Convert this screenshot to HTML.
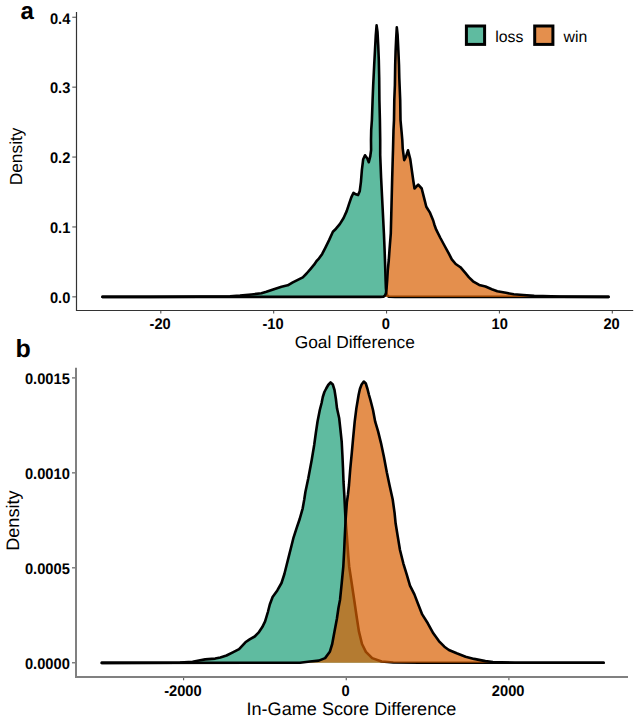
<!DOCTYPE html>
<html><head><meta charset="utf-8"><style>
html,body{margin:0;padding:0;background:#fff;}
body{width:637px;height:720px;overflow:hidden;}
svg{display:block;font-family:"Liberation Sans",sans-serif;}
text{fill:#000;text-rendering:geometricPrecision;}
</style></head><body>
<svg width="637" height="720" viewBox="0 0 637 720">
<polygon points="102.5,296.9 102.5,296.9 150.0,296.9 200.0,296.6 230.0,296.3 240.0,295.6 251.3,294.5 261.4,293.3 266.4,291.8 273.9,289.2 281.5,286.7 287.7,285.3 292.8,282.3 297.8,279.8 302.8,277.3 306.6,273.5 310.4,269.1 314.1,264.7 316.6,261.0 318.4,259.2 322.2,253.9 325.3,247.8 329.1,240.1 332.9,231.7 336.0,228.7 339.8,224.1 343.6,218.0 346.7,211.1 349.0,204.2 351.3,197.4 353.5,192.8 355.8,194.3 358.1,195.1 359.7,191.3 360.9,182.1 361.9,169.9 363.2,159.2 365.0,155.3 367.3,158.4 368.8,162.2 370.3,156.1 371.1,150.0 371.0,140.0 371.2,130.0 371.9,120.0 372.6,100.0 373.2,85.0 374.2,65.0 375.0,50.0 375.8,35.0 376.6,25.3 377.5,32.0 378.2,45.0 378.8,60.0 379.2,78.0 379.4,100.0 379.9,120.0 380.2,140.0 380.2,155.0 381.1,177.8 382.5,205.6 383.9,233.3 384.6,250.0 385.3,270.0 385.6,280.0 385.9,288.0 386.4,293.0 387.2,295.5 388.5,296.6 395.0,296.9 608.5,296.9 608.5,296.9" fill="rgba(27,158,119,0.7)" stroke="none"/>
<polyline points="102.5,296.9 150.0,296.9 200.0,296.6 230.0,296.3 240.0,295.6 251.3,294.5 261.4,293.3 266.4,291.8 273.9,289.2 281.5,286.7 287.7,285.3 292.8,282.3 297.8,279.8 302.8,277.3 306.6,273.5 310.4,269.1 314.1,264.7 316.6,261.0 318.4,259.2 322.2,253.9 325.3,247.8 329.1,240.1 332.9,231.7 336.0,228.7 339.8,224.1 343.6,218.0 346.7,211.1 349.0,204.2 351.3,197.4 353.5,192.8 355.8,194.3 358.1,195.1 359.7,191.3 360.9,182.1 361.9,169.9 363.2,159.2 365.0,155.3 367.3,158.4 368.8,162.2 370.3,156.1 371.1,150.0 371.0,140.0 371.2,130.0 371.9,120.0 372.6,100.0 373.2,85.0 374.2,65.0 375.0,50.0 375.8,35.0 376.6,25.3 377.5,32.0 378.2,45.0 378.8,60.0 379.2,78.0 379.4,100.0 379.9,120.0 380.2,140.0 380.2,155.0 381.1,177.8 382.5,205.6 383.9,233.3 384.6,250.0 385.3,270.0 385.6,280.0 385.9,288.0 386.4,293.0 387.2,295.5 388.5,296.6 395.0,296.9 608.5,296.9" fill="none" stroke="#000" stroke-width="2.6" stroke-linejoin="round" stroke-linecap="round"/>

<polygon points="102.5,296.9 102.5,296.9 380.0,296.9 383.5,296.6 385.0,295.5 386.0,293.0 386.6,288.0 387.2,280.0 387.8,270.0 388.8,260.0 389.5,250.0 390.8,233.3 391.5,205.6 392.2,177.8 392.7,160.0 393.0,150.0 393.5,130.0 394.0,120.0 394.3,100.0 394.9,85.0 395.2,65.0 395.6,51.3 396.2,38.0 396.8,27.4 397.6,35.0 398.4,51.3 399.0,65.0 399.3,78.0 400.2,100.0 400.5,120.0 401.6,132.0 402.3,140.0 402.7,148.3 404.2,160.2 406.0,156.7 408.0,150.3 410.3,159.4 411.8,170.1 413.3,180.8 414.5,188.5 418.2,184.7 421.7,188.5 424.0,197.6 426.3,206.8 430.1,212.9 433.2,220.5 434.4,224.7 436.2,229.7 440.4,238.0 444.7,246.0 448.6,253.1 451.8,259.3 455.7,264.0 460.4,267.2 465.1,272.7 469.0,277.4 473.0,281.3 479.2,284.9 485.5,286.5 491.8,289.2 497.3,291.2 505.9,292.8 513.8,294.3 523.2,295.0 534.2,295.9 560.0,296.6 608.5,296.9 608.5,296.9" fill="rgba(217,95,2,0.7)" stroke="none"/>
<polyline points="102.5,296.9 380.0,296.9 383.5,296.6 385.0,295.5 386.0,293.0 386.6,288.0 387.2,280.0 387.8,270.0 388.8,260.0 389.5,250.0 390.8,233.3 391.5,205.6 392.2,177.8 392.7,160.0 393.0,150.0 393.5,130.0 394.0,120.0 394.3,100.0 394.9,85.0 395.2,65.0 395.6,51.3 396.2,38.0 396.8,27.4 397.6,35.0 398.4,51.3 399.0,65.0 399.3,78.0 400.2,100.0 400.5,120.0 401.6,132.0 402.3,140.0 402.7,148.3 404.2,160.2 406.0,156.7 408.0,150.3 410.3,159.4 411.8,170.1 413.3,180.8 414.5,188.5 418.2,184.7 421.7,188.5 424.0,197.6 426.3,206.8 430.1,212.9 433.2,220.5 434.4,224.7 436.2,229.7 440.4,238.0 444.7,246.0 448.6,253.1 451.8,259.3 455.7,264.0 460.4,267.2 465.1,272.7 469.0,277.4 473.0,281.3 479.2,284.9 485.5,286.5 491.8,289.2 497.3,291.2 505.9,292.8 513.8,294.3 523.2,295.0 534.2,295.9 560.0,296.6 608.5,296.9" fill="none" stroke="#000" stroke-width="2.6" stroke-linejoin="round" stroke-linecap="round"/>

<line x1="76.50" y1="12.00" x2="76.50" y2="311.00" stroke="#333" stroke-width="1.2"/>
<line x1="76.00" y1="310.50" x2="633.20" y2="310.50" stroke="#333" stroke-width="1.2"/>
<line x1="72.30" y1="296.85" x2="76.00" y2="296.85" stroke="#555" stroke-width="1.1"/>
<text x="70.30" y="303.15" font-size="15.4" text-anchor="end" font-weight="bold" textLength="20.39" lengthAdjust="spacingAndGlyphs">0.0</text>
<line x1="72.30" y1="226.95" x2="76.00" y2="226.95" stroke="#555" stroke-width="1.1"/>
<text x="70.30" y="233.25" font-size="15.4" text-anchor="end" font-weight="bold" textLength="20.39" lengthAdjust="spacingAndGlyphs">0.1</text>
<line x1="72.30" y1="157.05" x2="76.00" y2="157.05" stroke="#555" stroke-width="1.1"/>
<text x="70.30" y="163.35" font-size="15.4" text-anchor="end" font-weight="bold" textLength="20.39" lengthAdjust="spacingAndGlyphs">0.2</text>
<line x1="72.30" y1="87.15" x2="76.00" y2="87.15" stroke="#555" stroke-width="1.1"/>
<text x="70.30" y="93.45" font-size="15.4" text-anchor="end" font-weight="bold" textLength="20.39" lengthAdjust="spacingAndGlyphs">0.3</text>
<line x1="72.30" y1="17.25" x2="76.00" y2="17.25" stroke="#555" stroke-width="1.1"/>
<text x="70.30" y="23.55" font-size="15.4" text-anchor="end" font-weight="bold" textLength="20.39" lengthAdjust="spacingAndGlyphs">0.4</text>
<line x1="160.80" y1="311.00" x2="160.80" y2="313.60" stroke="#555" stroke-width="1.1"/>
<text x="160.10" y="328.50" font-size="15.4" text-anchor="middle" font-weight="bold" textLength="21.20" lengthAdjust="spacingAndGlyphs">-20</text>
<line x1="273.68" y1="311.00" x2="273.68" y2="313.60" stroke="#555" stroke-width="1.1"/>
<text x="272.98" y="328.50" font-size="15.4" text-anchor="middle" font-weight="bold" textLength="21.20" lengthAdjust="spacingAndGlyphs">-10</text>
<line x1="386.55" y1="311.00" x2="386.55" y2="313.60" stroke="#555" stroke-width="1.1"/>
<text x="385.85" y="328.50" font-size="15.4" text-anchor="middle" font-weight="bold" textLength="8.16" lengthAdjust="spacingAndGlyphs">0</text>
<line x1="499.43" y1="311.00" x2="499.43" y2="313.60" stroke="#555" stroke-width="1.1"/>
<text x="499.73" y="328.50" font-size="15.4" text-anchor="middle" font-weight="bold" textLength="16.32" lengthAdjust="spacingAndGlyphs">10</text>
<line x1="612.30" y1="311.00" x2="612.30" y2="313.60" stroke="#555" stroke-width="1.1"/>
<text x="611.60" y="328.50" font-size="15.4" text-anchor="middle" font-weight="bold" textLength="16.32" lengthAdjust="spacingAndGlyphs">20</text>
<text x="354.8" y="348.1" font-size="17.33" text-anchor="middle" font-weight="normal" >Goal Difference</text>
<text x="0" y="0" font-size="17.33" text-anchor="middle" font-weight="normal" transform="translate(21.6,156.4) rotate(-90)">Density</text>
<rect x="466.4" y="26" width="18.2" height="18.4" fill="rgba(27,158,119,0.7)" stroke="#000" stroke-width="3"/>
<rect x="534.7" y="26" width="18.2" height="18.4" fill="rgba(217,95,2,0.7)" stroke="#000" stroke-width="3"/>
<text x="495.2" y="41.9" font-size="15.8" text-anchor="start" font-weight="normal" >loss</text>
<text x="563.6" y="41.9" font-size="15.8" text-anchor="start" font-weight="normal" >win</text>
<text x="20.5" y="18.5" font-size="24" text-anchor="start" font-weight="bold" >a</text>
<polygon points="101.8,662.8 101.8,662.9 180.0,662.6 192.6,661.8 198.9,660.5 205.2,659.4 215.2,658.6 220.3,657.4 226.5,655.5 232.8,652.3 239.1,649.2 245.4,642.3 250.0,639.1 254.7,636.5 258.5,632.7 262.3,627.1 265.1,621.4 267.9,612.0 269.8,604.5 272.6,597.0 277.3,590.4 281.5,583.0 284.4,574.0 286.7,564.8 289.0,555.6 291.3,546.5 293.6,537.3 296.6,528.2 299.7,519.0 302.7,508.3 304.3,499.2 305.4,492.0 308.3,478.3 311.7,460.0 314.2,445.0 315.8,433.3 317.5,421.7 319.8,410.0 321.6,403.0 322.8,397.0 324.4,392.0 326.2,388.5 328.2,385.0 330.6,382.4 332.8,384.5 334.5,390.0 335.9,399.0 337.0,408.3 339.2,418.3 340.3,428.3 341.7,441.7 342.4,455.0 343.0,468.3 343.5,481.7 344.3,495.0 344.8,505.0 345.3,515.0 346.0,525.0 346.8,535.0 347.5,545.0 348.2,555.0 349.2,566.7 351.7,583.3 354.2,600.0 356.5,615.7 358.9,631.4 362.0,644.0 365.9,651.8 372.2,658.1 381.6,661.5 393.3,662.5 420.0,662.8 603.6,662.8 603.6,662.8" fill="rgba(27,158,119,0.7)" stroke="none"/>
<polyline points="101.8,662.9 180.0,662.6 192.6,661.8 198.9,660.5 205.2,659.4 215.2,658.6 220.3,657.4 226.5,655.5 232.8,652.3 239.1,649.2 245.4,642.3 250.0,639.1 254.7,636.5 258.5,632.7 262.3,627.1 265.1,621.4 267.9,612.0 269.8,604.5 272.6,597.0 277.3,590.4 281.5,583.0 284.4,574.0 286.7,564.8 289.0,555.6 291.3,546.5 293.6,537.3 296.6,528.2 299.7,519.0 302.7,508.3 304.3,499.2 305.4,492.0 308.3,478.3 311.7,460.0 314.2,445.0 315.8,433.3 317.5,421.7 319.8,410.0 321.6,403.0 322.8,397.0 324.4,392.0 326.2,388.5 328.2,385.0 330.6,382.4 332.8,384.5 334.5,390.0 335.9,399.0 337.0,408.3 339.2,418.3 340.3,428.3 341.7,441.7 342.4,455.0 343.0,468.3 343.5,481.7 344.3,495.0 344.8,505.0 345.3,515.0 346.0,525.0 346.8,535.0 347.5,545.0 348.2,555.0 349.2,566.7 351.7,583.3 354.2,600.0 356.5,615.7 358.9,631.4 362.0,644.0 365.9,651.8 372.2,658.1 381.6,661.5 393.3,662.5 420.0,662.8 603.6,662.8" fill="none" stroke="#000" stroke-width="2.6" stroke-linejoin="round" stroke-linecap="round"/>

<polygon points="101.8,662.8 101.8,662.9 300.0,662.8 310.0,661.5 318.8,660.6 325.1,658.1 329.8,651.8 332.2,644.0 334.5,631.4 336.9,618.8 338.5,607.8 340.0,600.0 341.7,583.3 343.3,566.7 344.2,550.0 344.6,540.0 345.1,530.0 345.6,520.0 346.3,510.0 346.9,502.0 347.9,495.0 349.0,485.0 350.3,468.4 351.8,452.8 353.2,437.3 354.7,421.7 356.4,408.1 357.6,401.0 358.6,395.0 359.9,389.0 361.6,384.5 363.8,381.5 365.8,383.5 367.5,389.0 369.0,395.0 370.3,399.5 371.6,404.5 373.0,410.0 375.2,421.7 378.1,431.4 381.0,443.1 383.9,456.7 386.8,472.3 389.7,485.9 392.7,499.5 394.6,513.1 395.6,523.3 397.8,536.7 400.0,550.0 403.3,563.3 406.7,574.4 410.0,585.6 414.4,594.4 417.8,603.3 422.2,614.4 427.8,623.3 433.3,633.3 438.9,641.1 444.4,646.7 448.9,650.0 456.7,653.3 465.6,656.7 474.1,658.9 485.4,661.1 492.9,662.0 515.0,662.7 603.6,662.8 603.6,662.8" fill="rgba(217,95,2,0.7)" stroke="none"/>
<polyline points="101.8,662.9 300.0,662.8 310.0,661.5 318.8,660.6 325.1,658.1 329.8,651.8 332.2,644.0 334.5,631.4 336.9,618.8 338.5,607.8 340.0,600.0 341.7,583.3 343.3,566.7 344.2,550.0 344.6,540.0 345.1,530.0 345.6,520.0 346.3,510.0 346.9,502.0 347.9,495.0 349.0,485.0 350.3,468.4 351.8,452.8 353.2,437.3 354.7,421.7 356.4,408.1 357.6,401.0 358.6,395.0 359.9,389.0 361.6,384.5 363.8,381.5 365.8,383.5 367.5,389.0 369.0,395.0 370.3,399.5 371.6,404.5 373.0,410.0 375.2,421.7 378.1,431.4 381.0,443.1 383.9,456.7 386.8,472.3 389.7,485.9 392.7,499.5 394.6,513.1 395.6,523.3 397.8,536.7 400.0,550.0 403.3,563.3 406.7,574.4 410.0,585.6 414.4,594.4 417.8,603.3 422.2,614.4 427.8,623.3 433.3,633.3 438.9,641.1 444.4,646.7 448.9,650.0 456.7,653.3 465.6,656.7 474.1,658.9 485.4,661.1 492.9,662.0 515.0,662.7 603.6,662.8" fill="none" stroke="#000" stroke-width="2.6" stroke-linejoin="round" stroke-linecap="round"/>

<line x1="76.00" y1="367.70" x2="76.00" y2="678.00" stroke="#808080" stroke-width="2"/>
<line x1="75.00" y1="677.00" x2="628.00" y2="677.00" stroke="#808080" stroke-width="2"/>
<line x1="72.00" y1="662.80" x2="75.00" y2="662.80" stroke="#555" stroke-width="1.1"/>
<text x="69.80" y="669.10" font-size="15.4" text-anchor="end" font-weight="bold" textLength="44.87" lengthAdjust="spacingAndGlyphs">0.0000</text>
<line x1="72.00" y1="567.84" x2="75.00" y2="567.84" stroke="#555" stroke-width="1.1"/>
<text x="69.80" y="574.14" font-size="15.4" text-anchor="end" font-weight="bold" textLength="44.87" lengthAdjust="spacingAndGlyphs">0.0005</text>
<line x1="72.00" y1="472.87" x2="75.00" y2="472.87" stroke="#555" stroke-width="1.1"/>
<text x="69.80" y="479.17" font-size="15.4" text-anchor="end" font-weight="bold" textLength="44.87" lengthAdjust="spacingAndGlyphs">0.0010</text>
<line x1="72.00" y1="377.91" x2="75.00" y2="377.91" stroke="#555" stroke-width="1.1"/>
<text x="69.80" y="384.21" font-size="15.4" text-anchor="end" font-weight="bold" textLength="44.87" lengthAdjust="spacingAndGlyphs">0.0015</text>
<line x1="183.61" y1="678.00" x2="183.61" y2="680.20" stroke="#555" stroke-width="1.1"/>
<text x="182.91" y="695.50" font-size="15.4" text-anchor="middle" font-weight="bold" textLength="37.52" lengthAdjust="spacingAndGlyphs">-2000</text>
<line x1="346.25" y1="678.00" x2="346.25" y2="680.20" stroke="#555" stroke-width="1.1"/>
<text x="345.55" y="695.50" font-size="15.4" text-anchor="middle" font-weight="bold" textLength="8.16" lengthAdjust="spacingAndGlyphs">0</text>
<line x1="508.89" y1="678.00" x2="508.89" y2="680.20" stroke="#555" stroke-width="1.1"/>
<text x="508.19" y="695.50" font-size="15.4" text-anchor="middle" font-weight="bold" textLength="32.64" lengthAdjust="spacingAndGlyphs">2000</text>
<text x="351.4" y="715.1" font-size="18.1" text-anchor="middle" font-weight="normal" >In-Game Score Difference</text>
<text x="0" y="0" font-size="18.1" text-anchor="middle" font-weight="normal" transform="translate(18.9,520.6) rotate(-90)">Density</text>
<text x="15.5" y="357" font-size="25" text-anchor="start" font-weight="bold" >b</text>
</svg>
</body></html>
